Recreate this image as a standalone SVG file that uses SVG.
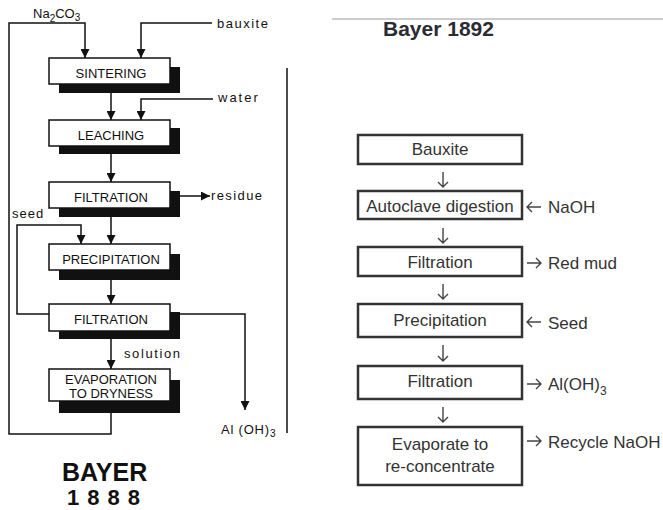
<svg xmlns="http://www.w3.org/2000/svg" width="663" height="510" viewBox="0 0 663 510">
<defs>
<marker id="tri" markerUnits="userSpaceOnUse" markerWidth="9" markerHeight="9" refX="9" refY="4.5" orient="auto">
<path d="M0,0 L9,4.5 L0,9 z" fill="#111"/>
</marker>
<style>
.box{fill:#fff;stroke:#111;stroke-width:1.5}
.sh{fill:#111}
.lt{font-family:"Liberation Sans",Arial,sans-serif;font-size:13px;fill:#111;text-anchor:middle}
.lbl{font-family:"Liberation Sans",Arial,sans-serif;font-size:13px;fill:#111}
.ln{fill:none;stroke:#111;stroke-width:1.5}
.rb{fill:#fff;stroke:#333;stroke-width:2.5}
.rt{font-family:"Liberation Sans",Arial,sans-serif;font-size:17px;fill:#333;text-anchor:middle}
.rl{font-family:"Liberation Sans",Arial,sans-serif;font-size:17px;fill:#333}
.ra{fill:none;stroke:#444;stroke-width:1.4}
</style>
</defs>
<rect width="663" height="510" fill="#fff"/>

<!-- Left diagram (1888) -->
<g id="connectors-left">
<path class="ln" d="M111,413 V434 H9 V23 H85 V58" marker-end="url(#tri)"/>
<path class="ln" d="M212,23 H141 V58" marker-end="url(#tri)"/>
<path class="ln" d="M111,93 V120" marker-end="url(#tri)"/>
<path class="ln" d="M213,99 H141 V120" marker-end="url(#tri)"/>
<path class="ln" d="M111,154 V182" marker-end="url(#tri)"/>
<path class="ln" d="M180,196 H210" marker-end="url(#tri)"/>
<path class="ln" d="M111,217 V244" marker-end="url(#tri)"/>
<path class="ln" d="M49,314 H17 V225 H81 V244" marker-end="url(#tri)"/>
<path class="ln" d="M111,280 V304" marker-end="url(#tri)"/>
<path class="ln" d="M180,314 H245 V410" marker-end="url(#tri)"/>
<path class="ln" d="M111,339 V369" marker-end="url(#tri)"/>
<path class="ln" d="M287,68 V433"/>
</g>

<g id="na2co3"><text class="lbl" x="33" y="18">Na<tspan font-size="10" dy="4">2</tspan><tspan dy="-4">CO</tspan><tspan font-size="10" dy="3">3</tspan></text></g>
<g id="bauxite-in"><text class="lbl" x="217" y="28" letter-spacing="1.5">bauxite</text></g>
<g id="water-in"><text class="lbl" x="218" y="102" letter-spacing="2">water</text></g>
<g id="residue-out"><text class="lbl" x="211" y="200" letter-spacing="1.4">residue</text></g>
<g id="seed-in"><text class="lbl" x="12" y="218" letter-spacing="1">seed</text></g>
<g id="solution-lbl"><text class="lbl" x="124" y="358" letter-spacing="1.6">solution</text></g>
<g id="aloh3-out"><text class="lbl" x="221" y="434" letter-spacing="0.8">Al (OH)<tspan font-size="10" dy="3">3</tspan></text></g>

<g id="sintering"><rect class="sh" x="59" y="67" width="121" height="26"/><rect class="box" x="49" y="58" width="121" height="26"/><text class="lt" x="111" y="78">SINTERING</text></g>
<g id="leaching"><rect class="sh" x="59" y="128" width="121" height="26"/><rect class="box" x="49" y="120" width="121" height="26"/><text class="lt" x="111" y="140">LEACHING</text></g>
<g id="filtration1"><rect class="sh" x="59" y="191" width="121" height="26"/><rect class="box" x="49" y="182" width="121" height="26"/><text class="lt" x="111" y="202">FILTRATION</text></g>
<g id="precipitation1"><rect class="sh" x="59" y="254" width="121" height="26"/><rect class="box" x="49" y="244" width="121" height="26"/><text class="lt" x="111" y="264">PRECIPITATION</text></g>
<g id="filtration2"><rect class="sh" x="59" y="312" width="121" height="27"/><rect class="box" x="49" y="304" width="121" height="27"/><text class="lt" x="111" y="324">FILTRATION</text></g>
<g id="evaporation"><rect class="sh" x="59" y="380" width="121" height="33"/><rect class="box" x="49" y="369" width="121" height="32"/><text class="lt" x="111" y="384">EVAPORATION</text><text class="lt" x="111" y="398">TO DRYNESS</text></g>

<g id="title-1888">
<text x="62" y="481" font-family="'Liberation Sans',Arial,sans-serif" font-size="25" font-weight="bold" fill="#111">BAYER</text>
<text x="67" y="505" font-family="'Liberation Sans',Arial,sans-serif" font-size="22" font-weight="bold" fill="#111" letter-spacing="8">1888</text>
</g>

<!-- Right diagram (1892) -->
<line x1="332" y1="19" x2="663" y2="19" stroke="#bbb" stroke-width="1.5"/>
<g id="title-1892"><text x="383" y="36" font-family="'Liberation Sans',Arial,sans-serif" font-size="21" font-weight="bold" fill="#2b2b33">Bayer 1892</text></g>

<g id="connectors-right">
<path class="ra" d="M443,172 V187 M438,182 L443,187 L448,182"/>
<path class="ra" d="M443,228 V243 M438,238 L443,243 L448,238"/>
<path class="ra" d="M443,284 V299 M438,294 L443,299 L448,294"/>
<path class="ra" d="M443,345 V361 M438,356 L443,361 L448,356"/>
<path class="ra" d="M443,407 V422 M438,417 L443,422 L448,417"/>
<path class="ra" d="M541,207 H527 M532,202 L527,207 L532,212"/>
<path class="ra" d="M527,263 H541 M536,258 L541,263 L536,268"/>
<path class="ra" d="M541,322 H527 M532,317 L527,322 L532,327"/>
<path class="ra" d="M527,384 H541 M536,379 L541,384 L536,389"/>
<path class="ra" d="M527,441 H541 M536,436 L541,441 L536,446"/>
</g>

<g id="r-bauxite"><rect class="rb" x="358" y="135" width="164" height="29"/><text class="rt" x="440" y="155">Bauxite</text></g>
<g id="r-autoclave"><rect class="rb" x="358" y="191" width="164" height="28"/><text class="rt" x="440" y="212">Autoclave digestion</text></g>
<g id="r-filtration1"><rect class="rb" x="358" y="247" width="164" height="29"/><text class="rt" x="440" y="268">Filtration</text></g>
<g id="r-precipitation"><rect class="rb" x="358" y="304" width="164" height="33"/><text class="rt" x="440" y="326">Precipitation</text></g>
<g id="r-filtration2"><rect class="rb" x="358" y="366" width="164" height="33"/><text class="rt" x="440" y="387">Filtration</text></g>
<g id="r-evaporate"><rect class="rb" x="358" y="427" width="164" height="58"/><text class="rt" x="440" y="450">Evaporate to</text><text class="rt" x="440" y="472">re-concentrate</text></g>

<g id="r-naoh"><text class="rl" x="548" y="213">NaOH</text></g>
<g id="r-redmud"><text class="rl" x="548" y="269">Red mud</text></g>
<g id="r-seed"><text class="rl" x="548" y="329">Seed</text></g>
<g id="r-aloh3"><text class="rl" x="548" y="390">Al(OH)<tspan font-size="12" dy="5">3</tspan></text></g>
<g id="r-recycle"><text class="rl" x="548" y="448">Recycle NaOH</text></g>
</svg>
